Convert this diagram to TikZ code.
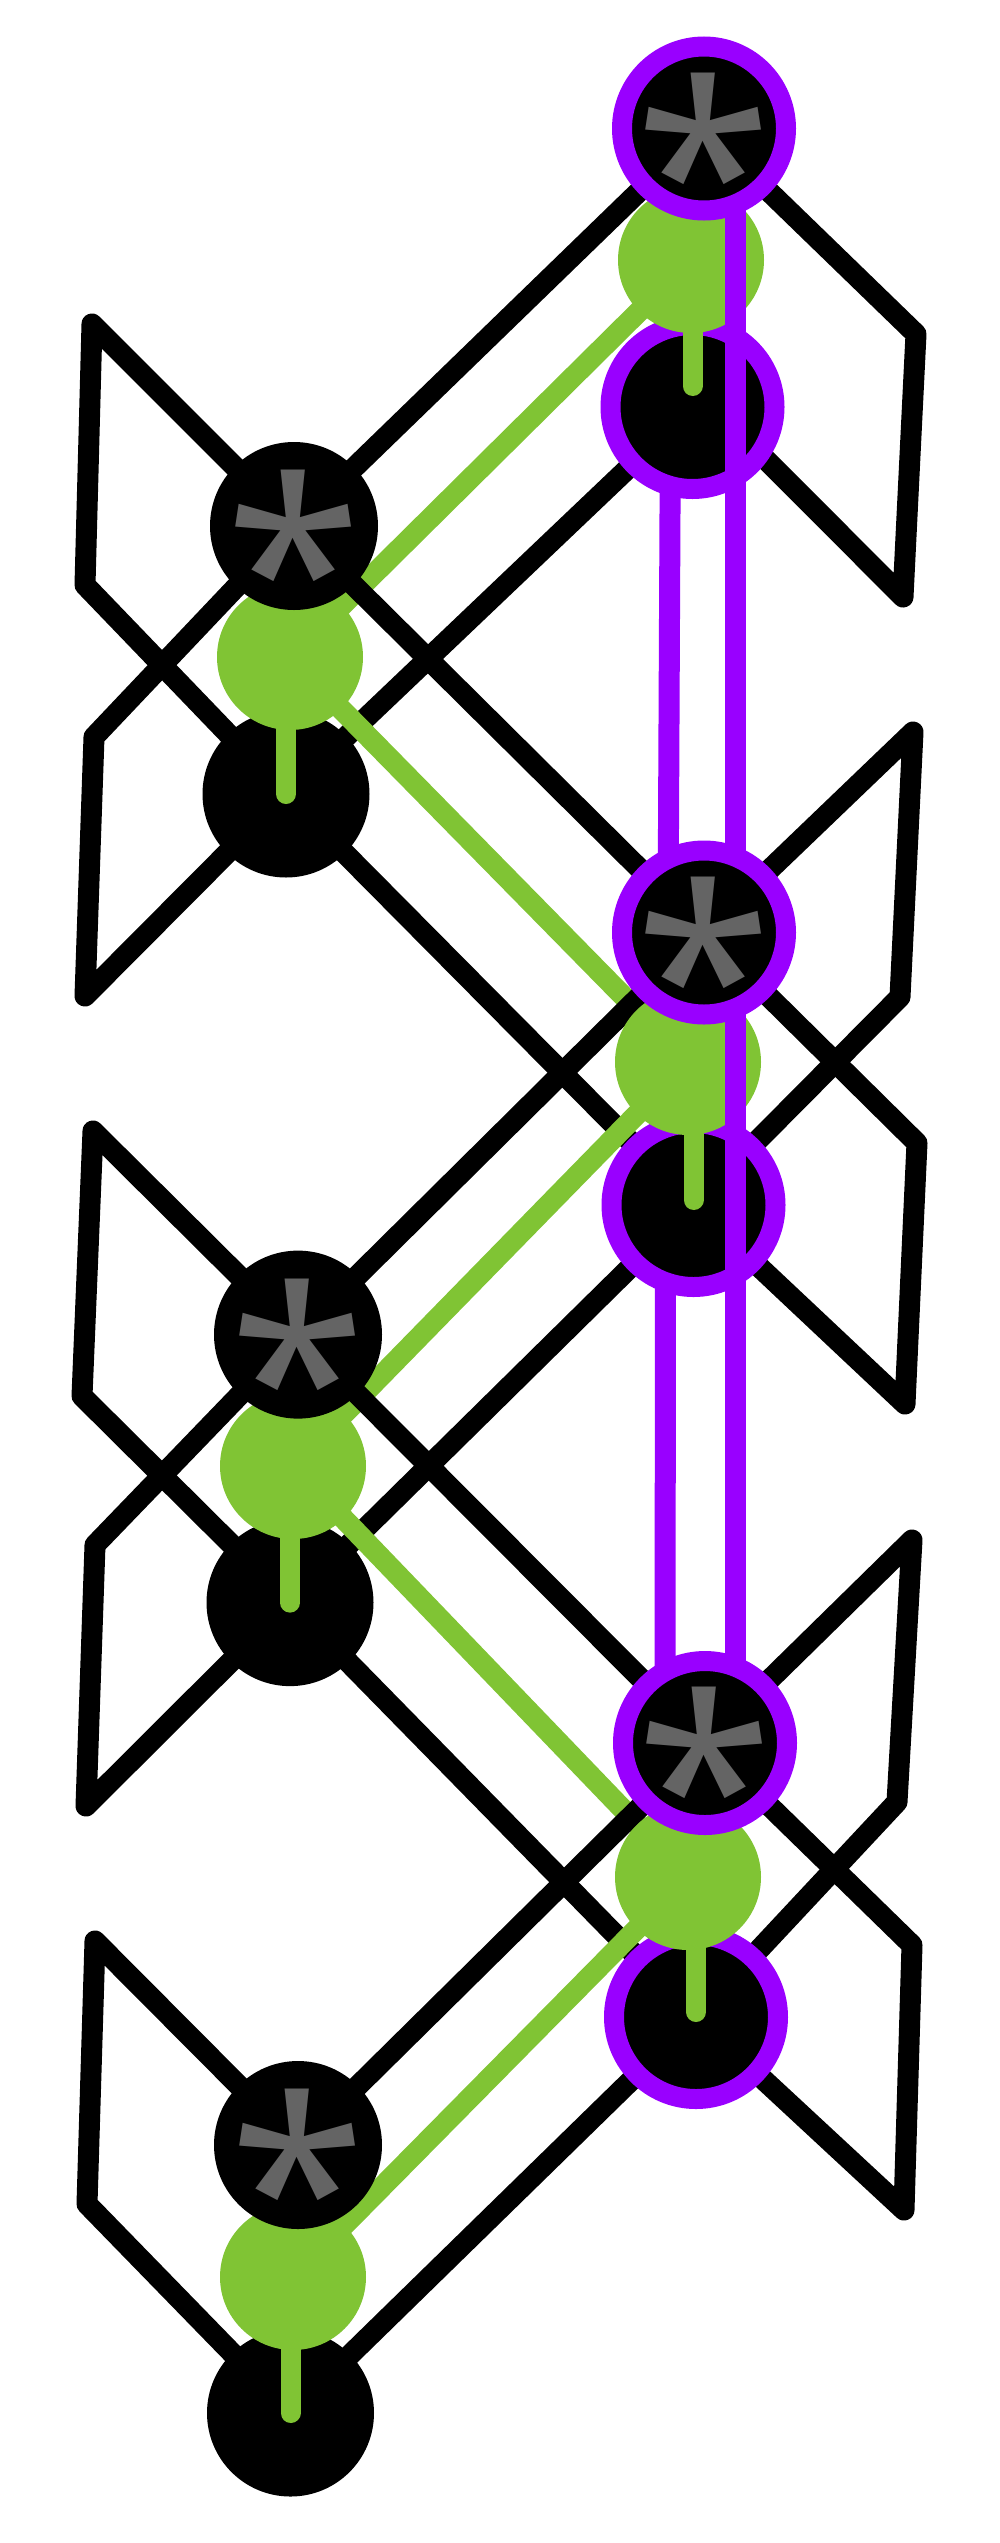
\documentclass[tikz,border=0pt]{standalone}
\usepackage{fontspec}
\newfontfamily\astfont{Noto Sans}
\usetikzlibrary{calc}
\definecolor{grn}{RGB}{128,196,52}
\definecolor{vio}{RGB}{153,0,255}
\definecolor{astgray}{RGB}{100,100,100}
\pgfdeclarelayer{edges}
\pgfdeclarelayer{purp}
\pgfdeclarelayer{top}
\pgfsetlayers{edges,main,purp,top}
\tikzset{
  lastn/.style={circle,fill=black,minimum size=168pt,inner sep=0pt},
  rastn/.style={circle,fill=black,draw=vio,line width=20pt,minimum size=164pt,inner sep=0pt},
  grnn/.style={circle,fill=grn,minimum size=146pt,inner sep=0pt},
  lblkn/.style={circle,fill=black,minimum size=167pt,inner sep=0pt},
  rblkn/.style={rastn},
  astglyph/.style={text=astgray,font={\astfont\bfseries\fontsize{248}{248}\selectfont},anchor=north,inner sep=0pt,yshift=56pt},
  blk/.style={line width=21pt,black,line cap=round,line join=round},
  grl/.style={line width=21pt,grn,line cap=round},
  stick/.style={line width=20pt,grn,line cap=round},
  vl/.style={line width=21pt,vio},
}
\begin{document}
\begin{tikzpicture}[x=1pt,y=-1pt]
\useasboundingbox (0,0) rectangle (1000,2543);
% corner points
\coordinate (A1) at (92,324);  \coordinate (B1) at (85,585);
\coordinate (C1) at (94,737);  \coordinate (D1) at (85,996);
\coordinate (A2) at (93,1131); \coordinate (B2) at (82,1396);
\coordinate (C2) at (95,1545); \coordinate (D2) at (86,1806);
\coordinate (A3) at (95,1941); \coordinate (B3) at (87,2204);
\coordinate (E1) at (916,334); \coordinate (F1) at (903,597);
\coordinate (G2) at (913,732); \coordinate (H2) at (900,997);
\coordinate (E2) at (917,1143);\coordinate (F2) at (905,1404);
\coordinate (G3) at (912,1540);\coordinate (H3) at (897,1802);
\coordinate (E3) at (912,1945);\coordinate (F3) at (904,2210);
% black circles
\node[lblkn] (lb1) at (286,794) {};
\node[lblkn] (lb2) at (290,1602.6) {};
\node[lblkn] (lb3) at (290.5,2413) {};
\node[rblkn] (rb1) at (692.5,407) {};
\node[rblkn] (rb2) at (693.5,1205) {};
\node[rblkn] (rb3) at (696,2017) {};
% green circles
\node[grnn] (lg1) at (290,657) {};
\node[grnn] (lg2) at (293,1466) {};
\node[grnn] (lg3) at (293,2277) {};
\node[grnn] (rg1) at (691,260) {};
\node[grnn] (rg2) at (688,1062) {};
\node[grnn] (rg3) at (688,1877) {};
% sticks
\draw[stick] (lb1.center |- lg1.center) -- (lb1.center);
\draw[stick] (lb2.center |- lg2.center) -- (lb2.center);
\draw[stick] (lb3.center |- lg3.center) -- (lb3.center);
\draw[stick] (rb1.center |- rg1.center) -- ($(rb1.center)+(0,-21)$);
\draw[stick] (rb2.center |- rg2.center) -- ($(rb2.center)+(0,-5)$);
\draw[stick] (rb3.center |- rg3.center) -- ($(rb3.center)+(0,-5)$);
% asterisk nodes
\begin{pgfonlayer}{top}
\node[lastn] (la1) at (294,526) {};
\node[lastn] (la2) at (298,1334.6) {};
\node[lastn] (la3) at (298,2145) {};
\node[rastn] (ra1) at (704,128.5) {};
\node[rastn] (ra2) at (704,932.5) {};
\node[rastn] (ra3) at (705,1743) {};
\node[astglyph] (la1t) at (la1.center) {*};
\node[astglyph] (la2t) at (la2.center) {*};
\node[astglyph] (la3t) at (la3.center) {*};
\node[astglyph] (ra1t) at (ra1.center) {*};
\node[astglyph] (ra2t) at (ra2.center) {*};
\node[astglyph] (ra3t) at (ra3.center) {*};
\end{pgfonlayer}
% purple lines over the right column
\begin{pgfonlayer}{purp}
\draw[vl] ($(ra1.center)+(31,0)$) -- ($(ra2.center)+(31,0)$);
\draw[vl] ($(ra2.center)+(31,0)$) -- ($(ra3.center)+(30,0)$);
\end{pgfonlayer}
% connectors
\begin{pgfonlayer}{edges}
% left unit 1 -> right unit 1
\draw[blk] (la1.center) -- (ra1.center);
\draw[grl] (lg1.center) -- (rg1.center);
\draw[blk] (lb1.center) -- (rb1.center);
% left unit 1 -> right unit 2
\draw[blk] (la1.center) -- (ra2.center);
\draw[grl] (lg1.center) -- (rg2.center);
\draw[blk] (lb1.center) -- (rb2.center);
% left unit 2 -> right unit 2
\draw[blk] (la2.center) -- (ra2.center);
\draw[grl] (lg2.center) -- (rg2.center);
\draw[blk] (lb2.center) -- (rb2.center);
% left unit 2 -> right unit 3
\draw[blk] (la2.center) -- (ra3.center);
\draw[grl] (lg2.center) -- (rg3.center);
\draw[blk] (lb2.center) -- (rb3.center);
% left unit 3 -> right unit 3
\draw[blk] (la3.center) -- (ra3.center);
\draw[grl] (lg3.center) -- (rg3.center);
\draw[blk] (lb3.center) -- (rb3.center);
% loops on the left
\draw[blk] (la1.center) -- (A1) -- (B1) -- (lb1.center);
\draw[blk] (la1.center) -- (C1) -- (D1) -- (lb1.center);
\draw[blk] (la2.center) -- (A2) -- (B2) -- (lb2.center);
\draw[blk] (la2.center) -- (C2) -- (D2) -- (lb2.center);
\draw[blk] (la3.center) -- (A3) -- (B3) -- (lb3.center);
% loops on the right
\draw[blk] (ra1.center) -- (E1) -- (F1) -- ($(rb1.center)+(0,-21)$);
\draw[blk] (ra2.center) -- (G2) -- (H2) -- (rb2.center);
\draw[blk] (ra2.center) -- (E2) -- (F2) -- (rb2.center);
\draw[blk] (ra3.center) -- (G3) -- (H3) -- (rb3.center);
\draw[blk] (ra3.center) -- (E3) -- (F3) -- (rb3.center);
% purple links from black circle to next asterisk
\draw[vl] ($(rb1.center)+(-22,0)$) -- ($(ra2.center)+(-36,0)$);
\draw[vl] ($(rb2.center)+(-28,0)$) -- ($(ra3.center)+(-40,0)$);
\end{pgfonlayer}
\end{tikzpicture}
\end{document}
